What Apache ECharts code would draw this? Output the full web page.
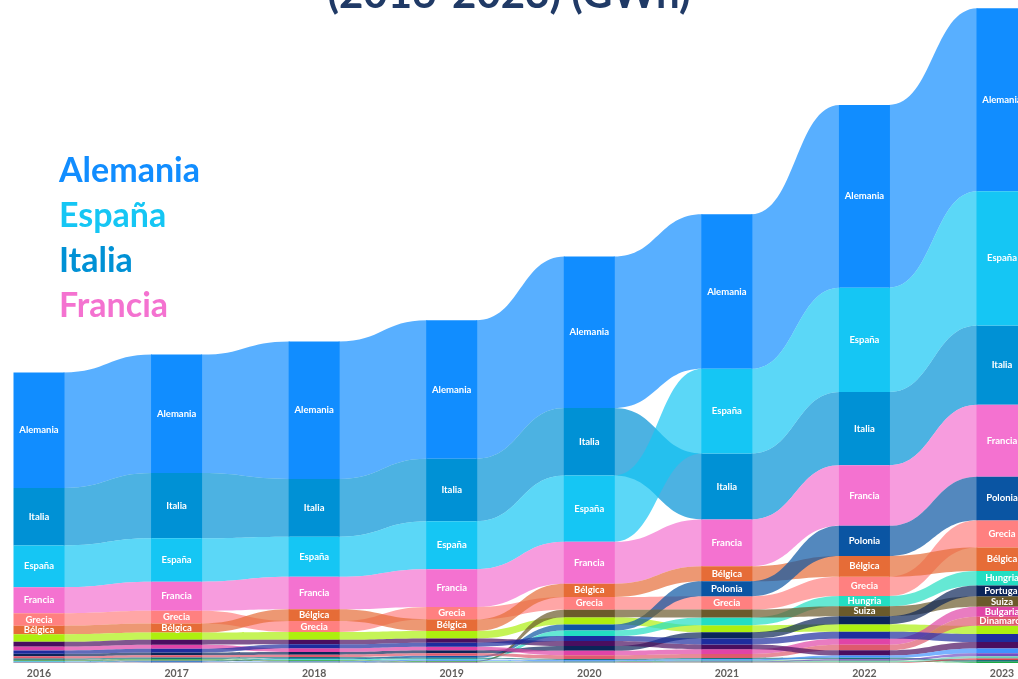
<!DOCTYPE html>
<html>
<head>
<meta charset="utf-8">
<script src="https://cdn.jsdelivr.net/npm/echarts@6/dist/echarts.min.js"></script>
<style>
html,body{margin:0;padding:0;background:#ffffff;}
#chart{width:1018px;height:679px;}
</style>
</head>
<body>
<div id="chart"></div>
<script>
// ---- Data (GWh) ----
const years = ['2016','2017','2018','2019','2020','2021','2022','2023'];
const alemania   = [38300, 39290, 45620, 45950, 50280, 51280, 60610, 60710];
const italia     = [19080, 21650, 19180, 20750, 22410, 21880, 24310, 26310];
const espana     = [13850, 14420, 13320, 15880, 21980, 28110, 34630, 44520];
const francia    = [8660, 9660, 10790, 12520, 13890, 15520, 20080, 23840];
const grecia     = [4130, 4230, 3660, 4130, 4230, 4460, 6430, 9090];
const belgica    = [2860, 3000, 3860, 3860, 4430, 5000, 6890, 7760];
const chequia    = [2460, 2330, 2560, 2460, 2400, 2330, 2530, 2730];
const polonia    = [130, 200, 330, 670, 2000, 4930, 9990, 14450];
const hungria    = [170, 200, 270, 330, 1860, 2500, 3400, 4830];
const suiza      = [200, 200, 230, 270, 2460, 2660, 3260, 3460];
const portugal   = [830, 900, 900, 1000, 1600, 2060, 2660, 3600];
const bulgaria   = [1330, 1370, 1230, 1200, 1470, 1600, 2000, 3330];
const dinamarca  = [730, 770, 770, 800, 1200, 1270, 1830, 3000];
const rumania    = [1570, 1670, 1530, 1430, 1630, 1600, 1730, 2160];
const austria    = [1100, 1200, 1300, 1330, 1670, 2000, 2330, 2660];
const eslovaquia = [430, 530, 430, 370, 430, 470, 530, 600];
const eslovenia  = [170, 270, 230, 170, 200, 270, 400, 400];
const suecia     = [130, 170, 200, 270, 330, 430, 670, 1500];
const lituania   = [100, 100, 100, 130, 170, 230, 400, 1000];
const croacia    = [100, 100, 100, 100, 100, 130, 200, 600];
const finlandia  = [70, 70, 100, 100, 130, 170, 270, 670];

const countryNames = ['Alemania','Italia','España','Francia','Grecia','Bélgica','Chequia','Polonia','Hungria','Suiza','Portugal','Bulgaria','Dinamarca','Rumanía','Austria','Eslovaquia','Eslovenia','Suecia','Lituania','Croacia','Finlandia'];
const countryValues = [alemania, italia, espana, francia, grecia, belgica, chequia, polonia, hungria, suiza, portugal, bulgaria, dinamarca, rumania, austria, eslovaquia, eslovenia, suecia, lituania, croacia, finlandia];
const countryColors = ['#118DFF','#0091D5','#15C6F4','#F472D0','#FF8080','#E66C37','#ADEF0F','#0A55A3','#23DEC2','#6B5A2B','#0B2559','#E044A7','#DE5A6E','#4A0E5F','#1D2C9E','#197278','#1AAB40','#4092FF','#744EC2','#D64550','#6BCCB6'];
const legendNames = ['Alemania','España','Italia','Francia'];

// ---- Stack layout: each year sorted by value, largest on top ----
const N = years.length;
const stacks = countryNames.map(() => []);
for (let t = 0; t < N; t++) {
  const order = countryNames.map((_, i) => i).sort((a, b) => countryValues[a][t] - countryValues[b][t]);
  let acc = 0;
  order.forEach(i => {
    const v = countryValues[i][t];
    stacks[i][t] = [acc, acc + v];
    acc += v;
  });
}

const BAR_W = 51;
const LABEL_MIN_PX = 8.4;

function renderBar(params, api) {
  const t = api.value(0);
  const top = api.coord([t, api.value(2)]);
  const bot = api.coord([t, api.value(1)]);
  const h = bot[1] - top[1];
  const ci = params.seriesIndex >> 1;
  const el = {
    type: 'rect',
    shape: { x: top[0] - BAR_W / 2, y: top[1], width: BAR_W, height: h },
    style: { fill: countryColors[ci] }
  };
  if (h >= LABEL_MIN_PX) {
    el.textContent = {
      style: {
        text: countryNames[ci],
        fill: '#ffffff',
        fontSize: 9.5,
        fontWeight: 'bold',
        fontFamily: 'Lato, sans-serif'
      }
    };
    el.textConfig = { position: 'inside' };
  }
  return el;
}

function renderRibbon(params, api) {
  const t = api.value(0);
  const a1 = api.coord([t, api.value(2)]);
  const a0 = api.coord([t, api.value(1)]);
  const b1 = api.coord([t + 1, api.value(4)]);
  const b0 = api.coord([t + 1, api.value(3)]);
  const x1 = a1[0] + BAR_W / 2 - 1;
  const x2 = b1[0] - BAR_W / 2 + 1;
  const xm = (x1 + x2) / 2;
  const d = 'M' + x1 + ' ' + a1[1] +
    ' C' + xm + ' ' + a1[1] + ' ' + xm + ' ' + b1[1] + ' ' + x2 + ' ' + b1[1] +
    ' L' + x2 + ' ' + b0[1] +
    ' C' + xm + ' ' + b0[1] + ' ' + xm + ' ' + a0[1] + ' ' + x1 + ' ' + a0[1] + ' Z';
  return {
    type: 'path',
    shape: { pathData: d },
    style: { fill: countryColors[params.seriesIndex >> 1], opacity: 0.7 }
  };
}

const series = [];
countryNames.forEach((name, i) => {
  const barData = [];
  const ribbonData = [];
  for (let t = 0; t < N; t++) {
    barData.push([t, stacks[i][t][0], stacks[i][t][1]]);
    if (t < N - 1) ribbonData.push([t, stacks[i][t][0], stacks[i][t][1], stacks[i][t + 1][0], stacks[i][t + 1][1]]);
  }
  series.push({
    type: 'custom', name: name, z: 2, silent: true,
    renderItem: renderBar,
    encode: { x: 0, y: [1, 2] },
    data: barData
  });
  series.push({
    type: 'custom', name: name, z: 1, silent: true,
    renderItem: renderRibbon,
    encode: { x: 0, y: [1, 2, 3, 4] },
    data: ribbonData
  });
});

const chart = echarts.init(document.getElementById('chart'), null, { renderer: 'canvas' });
chart.setOption({
  animation: false,
  backgroundColor: '#ffffff',
  title: {
    text: '(2016-2023) (GWh)',
    left: 'center',
    top: -32,
    textStyle: { fontSize: 42, fontWeight: 'bold', color: '#203A66', fontFamily: 'Lato, sans-serif' }
  },
  legend: {
    orient: 'vertical',
    left: 49,
    top: 144,
    icon: 'none',
    itemWidth: 0,
    itemHeight: 10,
    itemGap: 0,
    selectedMode: false,
    data: legendNames.map(n => ({ name: n, textStyle: { color: countryColors[countryNames.indexOf(n)] } })),
    textStyle: { fontSize: 34, fontWeight: 'bold', fontFamily: 'Lato, sans-serif', lineHeight: 45 }
  },
  grid: { left: 39, right: 16, top: 6, bottom: 16, containLabel: false },
  xAxis: {
    type: 'category',
    data: years,
    boundaryGap: false,
    axisLine: { show: false },
    axisTick: { show: false },
    splitLine: { show: false },
    axisLabel: { color: '#605E5C', fontSize: 10.5, fontWeight: 'bold', margin: 5, fontFamily: 'Lato, sans-serif' }
  },
  yAxis: {
    type: 'value',
    min: 0,
    max: 218000,
    show: false,
    splitLine: { show: false }
  },
  series: series
});
</script>
</body>
</html>
